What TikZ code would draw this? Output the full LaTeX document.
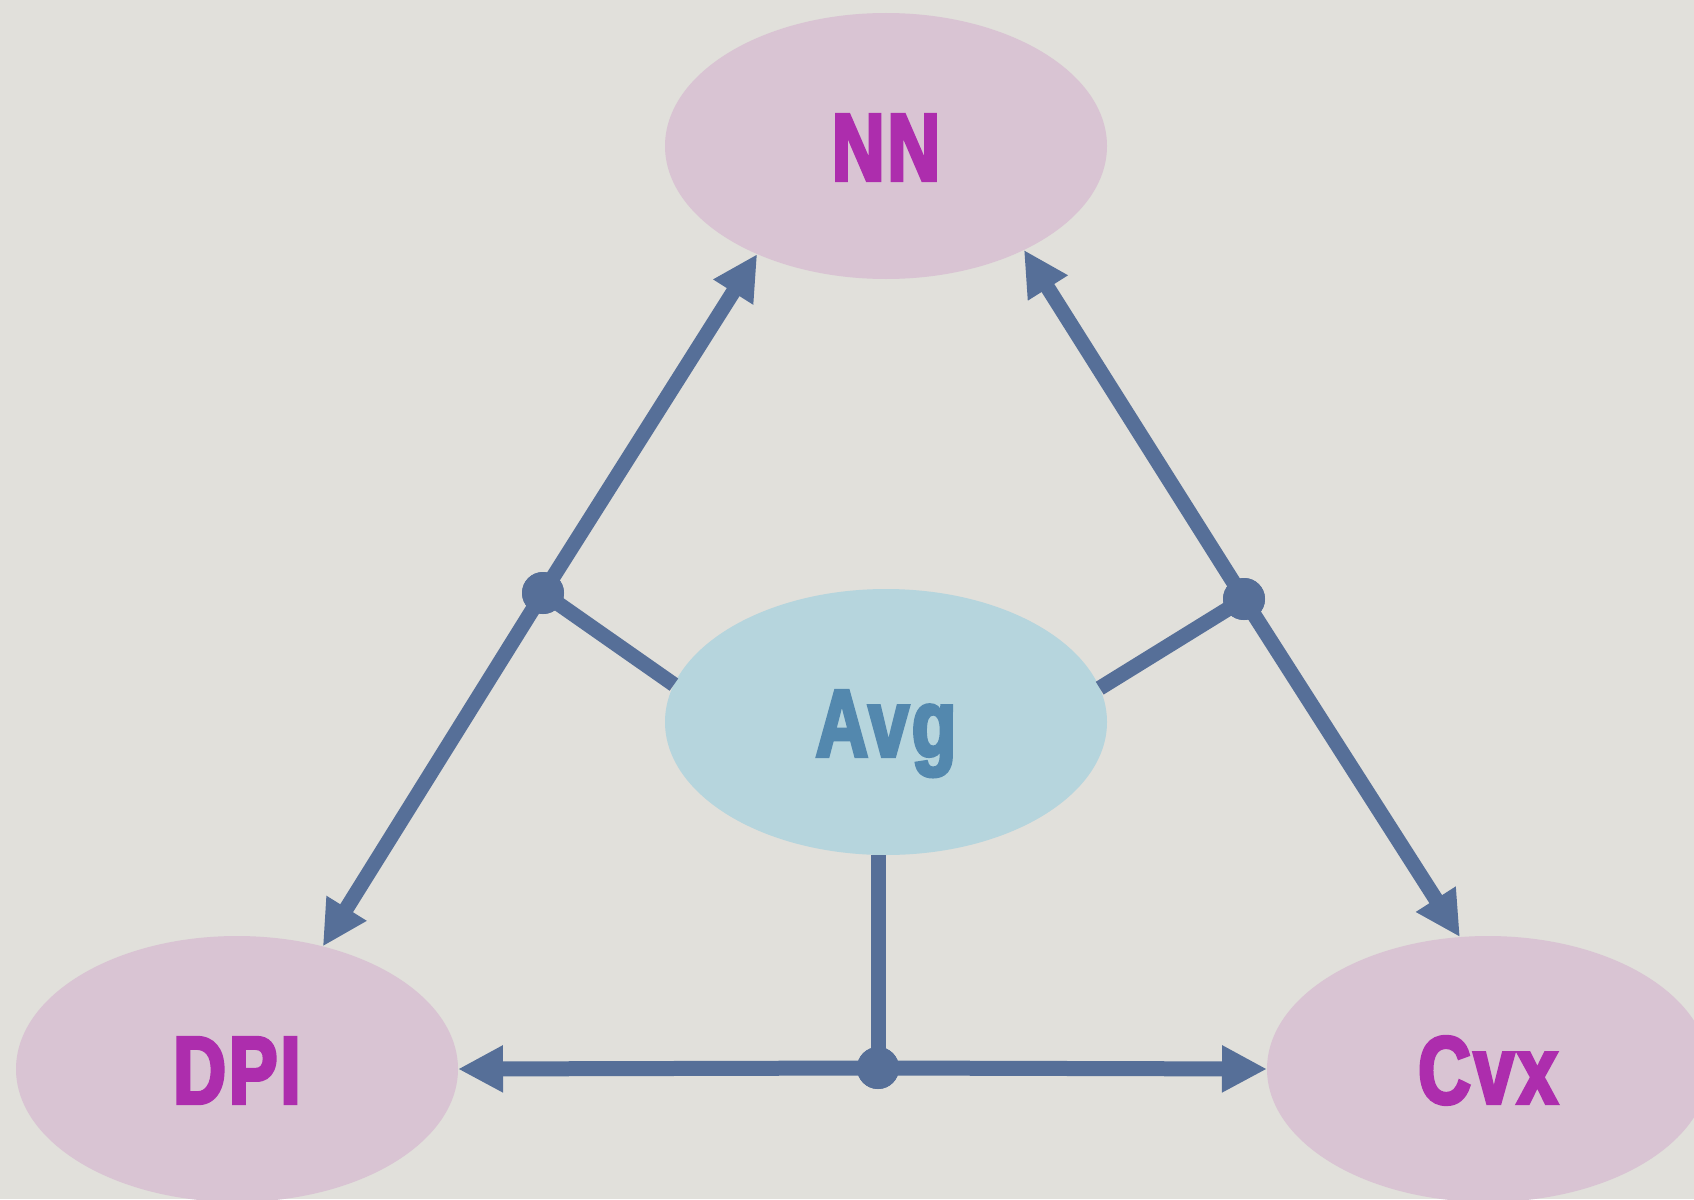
\documentclass[tikz,border=0pt]{standalone}
\usepackage{fontspec}
\setmainfont{Liberation Sans}
\newfontfamily\cond{Liberation Sans}[UprightFont=* Bold, FakeStretch=0.76, FakeBold=3.5, LetterSpace=3]
\usetikzlibrary{arrows.meta,shapes.geometric}
\definecolor{bg}{HTML}{E1E0DB}
\definecolor{pinkfill}{HTML}{D9C4D3}
\definecolor{magtext}{HTML}{AD2DAD}
\definecolor{bluefill}{HTML}{B6D5DD}
\definecolor{bluetext}{HTML}{5388AE}
\definecolor{linec}{HTML}{566F98}
\tikzset{
  blob/.style={ellipse, inner sep=0pt, outer sep=0pt, minimum width=442pt, minimum height=266pt,
    font=\cond\fontsize{96}{96}\selectfont, text height=69pt, text depth=0pt},
  outer/.style={blob, fill=pinkfill, text=magtext},
  inner/.style={blob, fill=bluefill, text=bluetext},
  junction/.style={circle, fill=linec, inner sep=0pt, minimum size=42pt},
  conn/.style={draw=linec, line width=15pt},
  arr/.style={conn, -{Triangle[length=45pt,width=44pt]}}
}
\begin{document}
\begin{tikzpicture}[x=1pt,y=-1pt]
\useasboundingbox (0,0) rectangle (1694,1199);
\clip (0,0) rectangle (1694,1199);
\fill[bg] (0,0) rectangle (1694,1199);
\node[outer] (nn) at (886,146) {NN};
\node[inner] (avg) at (886,722) {Avg};
\node[outer] (dpi) at (237,1069) {DPI};
\node[outer] (cvx) at (1488,1069) {Cvx};
\node[junction] (ld) at (543,593) {};
\node[junction] (rd) at (1244,599) {};
\node[junction] (bd) at (878,1068) {};
\draw[arr] (ld.center) -- (nn.220.6);
\draw[arr] (ld.center) -- (dpi.55.2);
\draw[arr] (rd.center) -- (nn.323.4);
\draw[arr] (rd.center) -- (cvx.102.7);
\draw[arr] (bd.center) -- (dpi.east);
\draw[arr] (bd.center) -- (cvx.west);
\draw[conn] (avg.170.6) -- (ld.center);
\draw[conn] (avg.9.4) -- (rd.center);
\draw[conn] (bd.center |- avg.south) -- (bd.center);
\node[junction] at (ld) {};
\node[junction] at (rd) {};
\node[junction] at (bd) {};
\end{tikzpicture}
\end{document}
